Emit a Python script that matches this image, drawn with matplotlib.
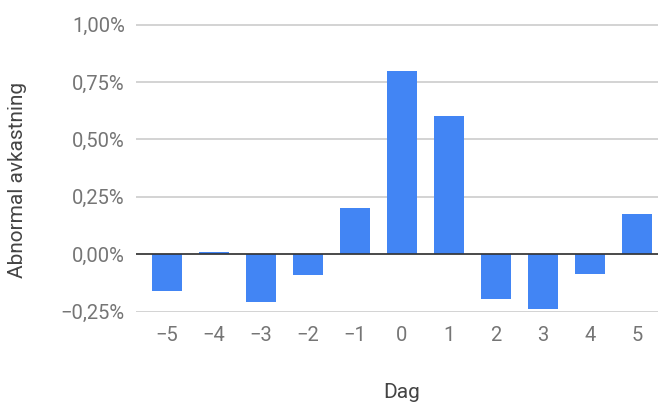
import matplotlib
matplotlib.use("Agg")
import matplotlib.pyplot as plt
from matplotlib.ticker import FixedLocator, FuncFormatter

# abnormal return per event day, in percent
days = [-5, -4, -3, -2, -1, 0, 1, 2, 3, 4, 5]
abnormal = [-0.16, 0.01, -0.21, -0.09, 0.20, 0.80, 0.60, -0.195, -0.24, -0.085, 0.175]
yticks = [-0.25, 0.0, 0.25, 0.50, 0.75, 1.00]

BLUE = "#4285F4"
plt.rcParams["font.family"] = ["Roboto", "DejaVu Sans"]

fig = plt.figure(figsize=(6.58, 4.04), dpi=100)
ax = fig.add_axes([136 / 658, 92 / 404, 522 / 658, 288 / 404])


def pct(v, _):
    s = f"{abs(v):.2f}".replace(".", ",") + "%"
    return ("\u2212" + s) if v < -1e-9 else s


ax.bar(days, abnormal, width=0.65, color=BLUE, zorder=2)
ax.axhline(0, color="#333333", lw=1.2, zorder=3)

ax.set_xlim(-5.66, 5.45)
ax.set_ylim(-0.252, 1.003)
ax.yaxis.set_major_locator(FixedLocator(yticks))
ax.yaxis.set_major_formatter(FuncFormatter(pct))
ax.set_xticks(days)
ax.set_xticklabels([(("\u2212" + str(-d)) if d < 0 else str(d)) for d in days])
ax.grid(axis="y", color="#cccccc", lw=1.2, zorder=0)
for sp in ax.spines.values():
    sp.set_visible(False)
ax.tick_params(length=0, labelsize=14.5, colors="#757575")
ax.tick_params(axis="y", pad=8)
ax.tick_params(axis="x", pad=10)

fig.text(402 / 658, 1 - 392 / 404, "Dag", ha="center", va="center",
         fontsize=15, color="#444444")
fig.text(18 / 658, 1 - 180 / 404, "Abnormal avkastning", ha="center", va="center",
         rotation=90, fontsize=15, color="#444444")

fig.savefig("out.png", dpi=100)
